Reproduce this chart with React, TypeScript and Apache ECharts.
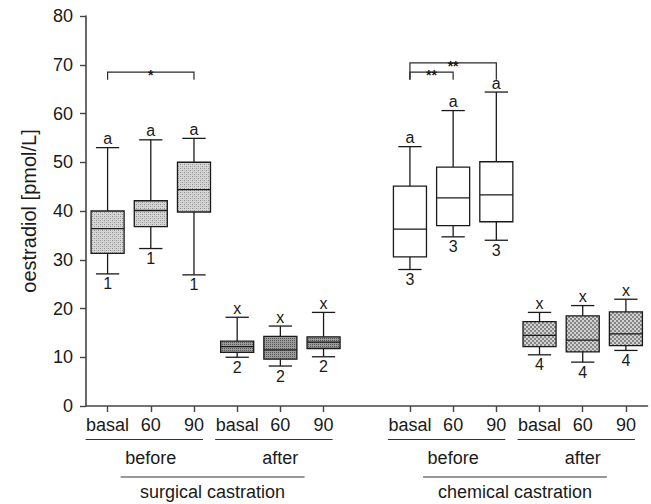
import React, { useEffect, useRef } from "react";
import * as echarts from "echarts";

const categories = ["basal", "60", "90", "basal", "60", "90", "", "basal", "60", "90", "basal", "60", "90"];
const boxCats = [0, 1, 2, 3, 4, 5, 7, 8, 9, 10, 11, 12];
const whiskerLow = [27.1, 32.3, 26.9, 10.0, 8.2, 10.1, 28.0, 34.7, 34.0, 10.5, 9.0, 11.4];
const q1 = [31.3, 36.8, 39.8, 11.0, 9.6, 11.8, 30.6, 37.0, 37.8, 12.2, 11.1, 12.4];
const median = [36.4, 40.1, 44.4, 12.2, 11.5, 13.1, 36.3, 42.7, 43.3, 14.5, 13.5, 14.8];
const q3 = [40.0, 42.1, 50.0, 13.3, 14.3, 14.2, 45.1, 49.0, 50.1, 17.3, 18.5, 19.3];
const whiskerHigh = [53.0, 54.6, 54.9, 18.2, 16.4, 19.2, 53.2, 60.6, 64.4, 19.2, 20.6, 21.9];
const topMarks = ["a", "a", "a", "x", "x", "x", "a", "a", "a", "x", "x", "x"];
const bottomMarks = ["1", "1", "1", "2", "2", "2", "3", "3", "3", "4", "4", "4"];
const boxFill = ["dots", "dots", "dots", "dark", "dark", "dark", "none", "none", "none", "check", "check", "check"];

const bracketFrom = [0, 7, 7];
const bracketTo = [2, 8, 9];
const bracketLevel = [68.5, 68.5, 70.4];
const bracketFoot = [66.9, 66.9, 66.9];
const bracketText = ["*", "**", "**"];

const groupLabels = ["before", "after", "before", "after"];
const groupFrom = [0, 3, 7, 10];
const groupTo = [2, 5, 9, 12];
const conditionLabels = ["surgical castration", "chemical castration"];
const conditionFrom = [0, 7];
const conditionTo = [5, 12];

const yTicks = [0, 10, 20, 30, 40, 50, 60, 70, 80];

const FONT = "'Liberation Sans', Arial, Helvetica, sans-serif";
const INK = "#1a1a1a";
const AXIS = "#444444";

function makePattern(kind: string): any {
  if (kind === "none") return "#ffffff";
  const c = document.createElement("canvas");
  c.width = 4;
  c.height = 4;
  const ctx = c.getContext("2d")!;
  if (kind === "dots") {
    ctx.fillStyle = "#d6d6d6";
    ctx.fillRect(0, 0, 4, 4);
    ctx.fillStyle = "#8e8e8e";
    ctx.fillRect(0, 0, 1, 1);
    ctx.fillRect(2, 2, 1, 1);
    ctx.fillStyle = "#b4b4b4";
    ctx.fillRect(2, 0, 1, 1);
    ctx.fillRect(0, 2, 1, 1);
  } else if (kind === "dark") {
    ctx.fillStyle = "#9c9c9c";
    ctx.fillRect(0, 0, 4, 4);
    ctx.fillStyle = "#555555";
    ctx.fillRect(0, 0, 1, 1);
    ctx.fillRect(2, 2, 1, 1);
    ctx.fillRect(2, 0, 1, 1);
    ctx.fillRect(0, 2, 1, 1);
  } else {
    ctx.fillStyle = "#d2d2d2";
    ctx.fillRect(0, 0, 4, 4);
    ctx.fillStyle = "#858585";
    ctx.fillRect(0, 0, 2, 2);
    ctx.fillRect(2, 2, 2, 2);
  }
  return { image: c, repeat: "repeat" };
}

export default function App() {
  const ref = useRef<HTMLDivElement>(null);

  useEffect(() => {
    if (!ref.current) return;
    const chart = echarts.init(ref.current, null, { renderer: "svg" });
    const fills: Record<string, any> = {
      dots: makePattern("dots"),
      dark: makePattern("dark"),
      none: makePattern("none"),
      check: makePattern("check"),
    };

    const boxData = boxCats.map((c, i) => [c, whiskerLow[i], q1[i], median[i], q3[i], whiskerHigh[i], i]);
    const bracketData = bracketFrom.map((f, i) => [f, bracketTo[i], bracketLevel[i], bracketFoot[i], i]);
    const groupData = groupFrom.map((f, i) => [f, groupTo[i], i]);
    const condData = conditionFrom.map((f, i) => [f, conditionTo[i], i]);

    const lineStyle = { stroke: INK, lineWidth: 1.3 };

    const option: any = {
      animation: false,
      grid: { left: 86, right: 3.5, top: 16, bottom: 98 },
      xAxis: {
        type: "category",
        data: categories,
        boundaryGap: true,
        axisLine: { show: true, lineStyle: { color: AXIS, width: 1.6 } },
        axisTick: {
          show: true,
          alignWithLabel: true,
          length: 6,
          lineStyle: { color: AXIS, width: 1.4 },
          interval: (idx: number, val: string) => val !== "",
        },
        axisLabel: {
          interval: 0,
          margin: 10,
          color: INK,
          fontSize: 18,
          fontFamily: FONT,
        },
        splitLine: { show: false },
      },
      yAxis: {
        type: "value",
        min: 0,
        max: 80,
        interval: 10,
        name: "oestradiol [pmol/L]",
        nameLocation: "middle",
        nameGap: 47,
        nameTextStyle: { color: INK, fontSize: 20, fontFamily: FONT },
        axisLine: { show: true, lineStyle: { color: AXIS, width: 1.6 } },
        axisTick: { show: true, length: 6, lineStyle: { color: AXIS, width: 1.4 } },
        axisLabel: {
          margin: 13,
          color: INK,
          fontSize: 18,
          fontFamily: FONT,
          formatter: (v: number) => (yTicks.indexOf(v) >= 0 ? String(v) : ""),
        },
        splitLine: { show: false },
      },
      series: [
        {
          type: "custom",
          name: "boxes",
          data: boxData,
          encode: { x: 0, y: [1, 2, 3, 4, 5] },
          clip: false,
          renderItem: (params: any, api: any) => {
            const x = api.value(0);
            const i = api.value(6);
            const band = api.size([1, 0])[0];
            const bw = band * 0.765;
            const cw = band * 0.54;
            const pLow = api.coord([x, api.value(1)]);
            const pQ1 = api.coord([x, api.value(2)]);
            const pMed = api.coord([x, api.value(3)]);
            const pQ3 = api.coord([x, api.value(4)]);
            const pHigh = api.coord([x, api.value(5)]);
            const cx = pLow[0];
            return {
              type: "group",
              children: [
                { type: "line", shape: { x1: cx, y1: pHigh[1], x2: cx, y2: pQ3[1] }, style: lineStyle },
                { type: "line", shape: { x1: cx, y1: pQ1[1], x2: cx, y2: pLow[1] }, style: lineStyle },
                { type: "line", shape: { x1: cx - cw / 2, y1: pHigh[1], x2: cx + cw / 2, y2: pHigh[1] }, style: lineStyle },
                { type: "line", shape: { x1: cx - cw / 2, y1: pLow[1], x2: cx + cw / 2, y2: pLow[1] }, style: lineStyle },
                {
                  type: "rect",
                  shape: { x: cx - bw / 2, y: pQ3[1], width: bw, height: pQ1[1] - pQ3[1] },
                  style: { fill: fills[boxFill[i]], stroke: INK, lineWidth: 1.3 },
                },
                { type: "line", shape: { x1: cx - bw / 2, y1: pMed[1], x2: cx + bw / 2, y2: pMed[1] }, style: lineStyle },
                {
                  type: "text",
                  style: {
                    text: topMarks[i],
                    x: cx,
                    y: pHigh[1] - 1,
                    align: "center",
                    verticalAlign: "bottom",
                    fontSize: 16,
                    fontFamily: FONT,
                    fill: INK,
                  },
                },
                {
                  type: "text",
                  style: {
                    text: bottomMarks[i],
                    x: cx,
                    y: pLow[1] + 2,
                    align: "center",
                    verticalAlign: "top",
                    fontSize: 16,
                    fontFamily: FONT,
                    fill: INK,
                  },
                },
              ],
            };
          },
        },
        {
          type: "custom",
          name: "brackets",
          data: bracketData,
          encode: { x: [0, 1], y: [2, 3] },
          clip: false,
          renderItem: (params: any, api: any) => {
            const i = api.value(4);
            const a = api.coord([api.value(0), api.value(3)]);
            const b = api.coord([api.value(0), api.value(2)]);
            const c = api.coord([api.value(1), api.value(2)]);
            const d = api.coord([api.value(1), api.value(3)]);
            return {
              type: "group",
              children: [
                {
                  type: "polyline",
                  shape: { points: [a, b, c, d] },
                  style: { stroke: "#2a2a2a", lineWidth: 1.2, fill: "none" },
                },
                {
                  type: "text",
                  style: {
                    text: bracketText[i],
                    x: (b[0] + c[0]) / 2,
                    y: b[1] + 3,
                    align: "center",
                    verticalAlign: "middle",
                    fontSize: 14,
                    fontWeight: "bold",
                    fontFamily: FONT,
                    fill: INK,
                  },
                },
              ],
            };
          },
        },
        {
          type: "custom",
          name: "groups",
          data: groupData,
          encode: { x: [0, 1] },
          clip: false,
          renderItem: (params: any, api: any) => {
            const i = api.value(2);
            const a = api.coord([api.value(0), 0]);
            const b = api.coord([api.value(1), 0]);
            const mid = api.coord([(api.value(0) + api.value(1)) / 2, 0]);
            const base = a[1];
            return {
              type: "group",
              children: [
                {
                  type: "line",
                  shape: { x1: a[0] - 22, y1: base + 33.5, x2: b[0] + 9, y2: base + 33.5 },
                  style: { stroke: "#333", lineWidth: 1.2 },
                },
                {
                  type: "text",
                  style: {
                    text: groupLabels[i],
                    x: mid[0],
                    y: base + 52,
                    align: "center",
                    verticalAlign: "middle",
                    fontSize: 18,
                    fontFamily: FONT,
                    fill: INK,
                  },
                },
              ],
            };
          },
        },
        {
          type: "custom",
          name: "conditions",
          data: condData,
          encode: { x: [0, 1] },
          clip: false,
          renderItem: (params: any, api: any) => {
            const i = api.value(2);
            const a = api.coord([api.value(0), 0]);
            const b = api.coord([api.value(1), 0]);
            const base = a[1];
            const x1 = a[0] + 13;
            const x2 = b[0] - 19;
            return {
              type: "group",
              children: [
                {
                  type: "line",
                  shape: { x1, y1: base + 71, x2, y2: base + 71 },
                  style: { stroke: "#333", lineWidth: 1.2 },
                },
                {
                  type: "text",
                  style: {
                    text: conditionLabels[i],
                    x: (x1 + x2) / 2,
                    y: base + 86,
                    align: "center",
                    verticalAlign: "middle",
                    fontSize: 18,
                    fontFamily: FONT,
                    fill: INK,
                  },
                },
              ],
            };
          },
        },
      ],
    };

    chart.setOption(option);
    return () => chart.dispose();
  }, []);

  return (
    <div
      ref={ref}
      style={{ position: "fixed", left: 0, top: 0, width: 651, height: 504, background: "#ffffff" }}
    />
  );
}
